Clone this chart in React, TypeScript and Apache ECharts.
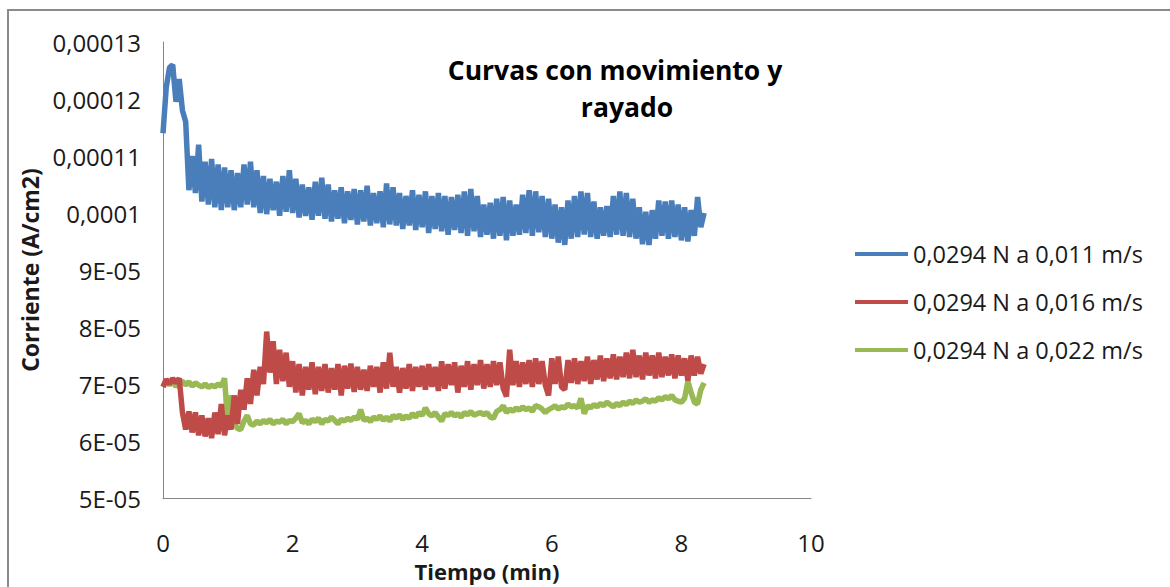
import React, { useEffect, useRef } from "react";
import * as echarts from "echarts";

// Sampling step of the recorded curves (minutes)
const STEP = 0.05;

// Current values in units of 1E-05 A/cm2, one value every STEP minutes from t = 0
const blue = [
  11.4, 12.2, 12.55, 12.6, 11.95, 12.35, 11.8, 11.6, 10.4, 11.0,
  10.35, 11.2, 10.2, 10.9, 10.15, 10.95, 10.1, 10.85, 10.05, 10.8,
  10.1, 10.75, 10.05, 10.7, 10.1, 10.85, 10.15, 10.9, 10.1, 10.75,
  10.0, 10.65, 9.98, 10.6, 10.05, 10.55, 9.95, 10.65, 10.02, 10.75,
  10.0, 10.6, 9.92, 10.5, 9.95, 10.45, 9.88, 10.55, 9.95, 10.62,
  9.9, 10.5, 9.85, 10.4, 9.9, 10.45, 9.82, 10.38, 9.88, 10.42,
  9.8, 10.4, 9.85, 10.48, 9.78, 10.35, 9.82, 10.38, 9.75, 10.52,
  9.8, 10.45, 9.78, 10.35, 9.72, 10.3, 9.78, 10.4, 9.7, 10.32,
  9.75, 10.38, 9.65, 10.3, 9.72, 10.35, 9.68, 10.3, 9.62, 10.28,
  9.7, 10.32, 9.65, 10.38, 9.6, 10.42, 9.68, 10.3, 9.58, 10.15,
  9.62, 10.18, 9.55, 10.25, 9.6, 10.28, 9.52, 10.22, 9.6, 10.15,
  9.62, 10.32, 9.65, 10.4, 9.6, 10.38, 9.66, 10.3, 9.58, 10.25,
  9.55, 10.15, 9.48, 10.1, 9.44, 10.22, 9.55, 10.3, 9.58, 10.38,
  9.62, 10.35, 9.58, 10.2, 9.55, 10.1, 9.6, 10.12, 9.58, 10.3,
  9.62, 10.38, 9.6, 10.35, 9.58, 10.25, 9.55, 10.1, 9.45, 10.02,
  9.44, 10.05, 9.55, 10.22, 9.6, 10.2, 9.55, 10.22, 9.58, 10.15,
  9.52, 10.1, 9.5, 10.05, 9.6, 10.28, 9.75, 10.0,
];

const red = [
  6.95, 7.08, 7.0, 7.1, 7.02, 7.1, 6.5, 6.2, 6.52, 6.15,
  6.5, 6.1, 6.45, 6.08, 6.4, 6.05, 6.5, 6.12, 6.65, 6.1,
  6.45, 6.2, 6.8, 6.3, 6.9, 6.55, 7.1, 6.65, 7.25, 6.8,
  7.3, 7.0, 7.92, 7.2, 7.75, 7.0, 7.6, 7.05, 7.55, 6.95,
  7.4, 6.85, 7.35, 6.8, 7.3, 6.9, 7.38, 6.82, 7.3, 6.88,
  7.35, 6.85, 7.28, 6.9, 7.35, 6.8, 7.32, 6.92, 7.36, 6.86,
  7.3, 6.9, 7.25, 6.88, 7.32, 6.95, 7.3, 6.85, 7.38, 6.92,
  7.55, 6.95, 7.3, 6.85, 7.28, 6.92, 7.35, 6.88, 7.3, 6.95,
  7.32, 6.9, 7.35, 6.95, 7.3, 6.88, 7.4, 6.92, 7.35, 6.98,
  7.38, 6.85, 7.32, 6.95, 7.4, 6.9, 7.35, 6.98, 7.42, 6.92,
  7.35, 6.95, 7.4, 6.98, 7.38, 6.92, 6.78, 7.6, 6.98, 7.4,
  6.95, 7.38, 7.0, 7.42, 6.95, 7.45, 7.0, 7.4, 6.98, 6.8,
  7.45, 7.0, 7.48, 6.95, 6.9, 7.42, 7.02, 7.45, 7.0, 7.4,
  7.05, 7.48, 7.0, 7.42, 7.08, 7.5, 7.05, 7.45, 7.1, 7.52,
  7.08, 7.48, 7.12, 7.55, 7.1, 7.6, 7.12, 7.5, 7.08, 7.55,
  7.15, 7.5, 7.1, 7.55, 7.12, 7.48, 7.15, 7.52, 7.1, 7.5,
  7.15, 7.45, 7.06, 7.5, 7.15, 7.48, 7.18, 7.35,
];

const green = [
  6.95, 7.05, 6.98, 7.06, 6.95, 7.02, 7.05, 6.98, 7.04, 6.96,
  7.02, 6.98, 6.95, 7.0, 6.94, 6.98, 6.95, 7.0, 6.96, 7.1,
  6.28, 6.8, 6.3, 6.22, 6.2, 6.35, 6.45, 6.3, 6.28, 6.35,
  6.3, 6.36, 6.32, 6.38, 6.3, 6.35, 6.33, 6.38, 6.3, 6.36,
  6.34, 6.4, 6.48, 6.32, 6.36, 6.3, 6.38, 6.34, 6.4, 6.3,
  6.38, 6.35, 6.42, 6.36, 6.3, 6.38, 6.35, 6.4, 6.36, 6.42,
  6.38, 6.55, 6.36, 6.4, 6.34, 6.42, 6.38, 6.44, 6.36, 6.42,
  6.35, 6.45, 6.4, 6.46, 6.38, 6.44, 6.4, 6.48, 6.42, 6.5,
  6.45, 6.58, 6.48, 6.44, 6.5, 6.42, 6.35, 6.48, 6.45, 6.5,
  6.44, 6.48, 6.42, 6.5, 6.46, 6.52, 6.45, 6.48, 6.5, 6.46,
  6.5, 6.42, 6.4, 6.52, 6.55, 6.62, 6.5, 6.56, 6.52, 6.58,
  6.54, 6.6, 6.55, 6.58, 6.52, 6.62, 6.6, 6.56, 6.5, 6.55,
  6.58, 6.62, 6.56, 6.6, 6.58, 6.65, 6.6, 6.62, 6.58, 6.75,
  6.48, 6.62, 6.58, 6.64, 6.6, 6.66, 6.62, 6.68, 6.64, 6.6,
  6.66, 6.62, 6.68, 6.64, 6.7, 6.66, 6.72, 6.68, 6.7, 6.74,
  6.68, 6.72, 6.7, 6.76, 6.72, 6.78, 6.74, 6.8, 6.72, 6.7,
  6.68, 6.75, 7.05, 6.85, 6.68, 6.65, 6.9, 7.02,
];

const seriesNames = [
  "0,0294 N a 0,011 m/s",
  "0,0294 N a 0,016 m/s",
  "0,0294 N a 0,022 m/s",
];
const seriesColors = ["#4a7ebb", "#be4b48", "#98b954"];

// Y tick labels, indexed by value in 1E-05 units (5..13)
const yTickLabels: Record<number, string> = {
  5: "5E-05",
  6: "6E-05",
  7: "7E-05",
  8: "8E-05",
  9: "9E-05",
  10: "0,0001",
  11: "0,00011",
  12: "0,00012",
  13: "0,00013",
};

const titleLines = ["Curvas con movimiento y", "rayado"];
const xName = "Tiempo (min)";
const yName = "Corriente (A/cm2)";

const FONT = "'Open Sans', 'Noto Sans', sans-serif";

export default function App() {
  const ref = useRef<HTMLDivElement>(null);

  useEffect(() => {
    if (!ref.current) return;
    const chart = echarts.init(ref.current, null, { renderer: "svg" });
    const toPairs = (arr: number[]) => arr.map((v, i) => [i * STEP, v]);
    const all = [blue, red, green];

    chart.setOption({
      animation: false,
      backgroundColor: "#ffffff",
      textStyle: { fontFamily: FONT },
      grid: { left: 163, right: 359, top: 42, bottom: 84, containLabel: false },
      legend: {
        orient: "vertical",
        left: 855,
        top: 242,
        padding: 0,
        icon: "rect",
        itemWidth: 53,
        itemHeight: 4,
        itemGap: 24,
        data: seriesNames,
        textStyle: { fontFamily: FONT, fontSize: 23.5, color: "#1a1a1a" },
      },
      xAxis: {
        type: "value",
        min: 0,
        max: 10,
        interval: 2,
        name: xName,
        nameLocation: "middle",
        nameGap: 62,
        nameTextStyle: {
          fontFamily: FONT,
          fontSize: 22,
          lineHeight: 22,
          fontWeight: "bold",
          color: "#1a1a1a",
        },
        axisLine: { show: true, lineStyle: { color: "#868686", width: 1 } },
        axisTick: { show: false },
        splitLine: { show: false },
        axisLabel: { margin: 33, fontFamily: FONT, fontSize: 24, lineHeight: 22, color: "#1a1a1a" },
      },
      yAxis: {
        type: "value",
        min: 5,
        max: 13,
        interval: 1,
        name: yName,
        nameLocation: "middle",
        nameGap: 120,
        nameRotate: 90,
        nameTextStyle: { fontFamily: FONT, fontSize: 23, fontWeight: "bold", color: "#1a1a1a" },
        axisLine: { show: true, lineStyle: { color: "#868686", width: 1 } },
        axisTick: { show: false },
        splitLine: { show: false },
        axisLabel: {
          margin: 22,
          fontFamily: FONT,
          fontSize: 24,
          color: "#1a1a1a",
          formatter: (v: number) => yTickLabels[Math.round(v)] ?? "",
        },
      },
      series: all.map((arr, k) => ({
        name: seriesNames[k],
        type: "line",
        data: toPairs(arr),
        symbol: "none",
        showSymbol: false,
        color: seriesColors[k],
        lineStyle: { color: seriesColors[k], width: 5.5 },
        z: 3 - k,
      })),
      graphic: [
        {
          type: "polyline",
          shape: { points: [[8, 590], [8, 10], [1172, 10]] },
          style: { fill: "none", stroke: "#8a8a8a", lineWidth: 2 },
          silent: true,
        },
        {
          type: "text",
          x: 615,
          y: 70,
          style: {
            text: titleLines[0],
            fontFamily: FONT,
            fontSize: 26.5,
            fontWeight: "bold",
            fill: "#000",
            align: "center",
            verticalAlign: "middle",
          },
        },
        {
          type: "text",
          x: 627,
          y: 107,
          style: {
            text: titleLines[1],
            fontFamily: FONT,
            fontSize: 26.5,
            fontWeight: "bold",
            fill: "#000",
            align: "center",
            verticalAlign: "middle",
          },
        },
      ],
    });

    return () => chart.dispose();
  }, []);

  return (
    <div
      ref={ref}
      style={{ position: "fixed", left: 0, top: 0, width: 1170, height: 587, background: "#fff" }}
    />
  );
}
